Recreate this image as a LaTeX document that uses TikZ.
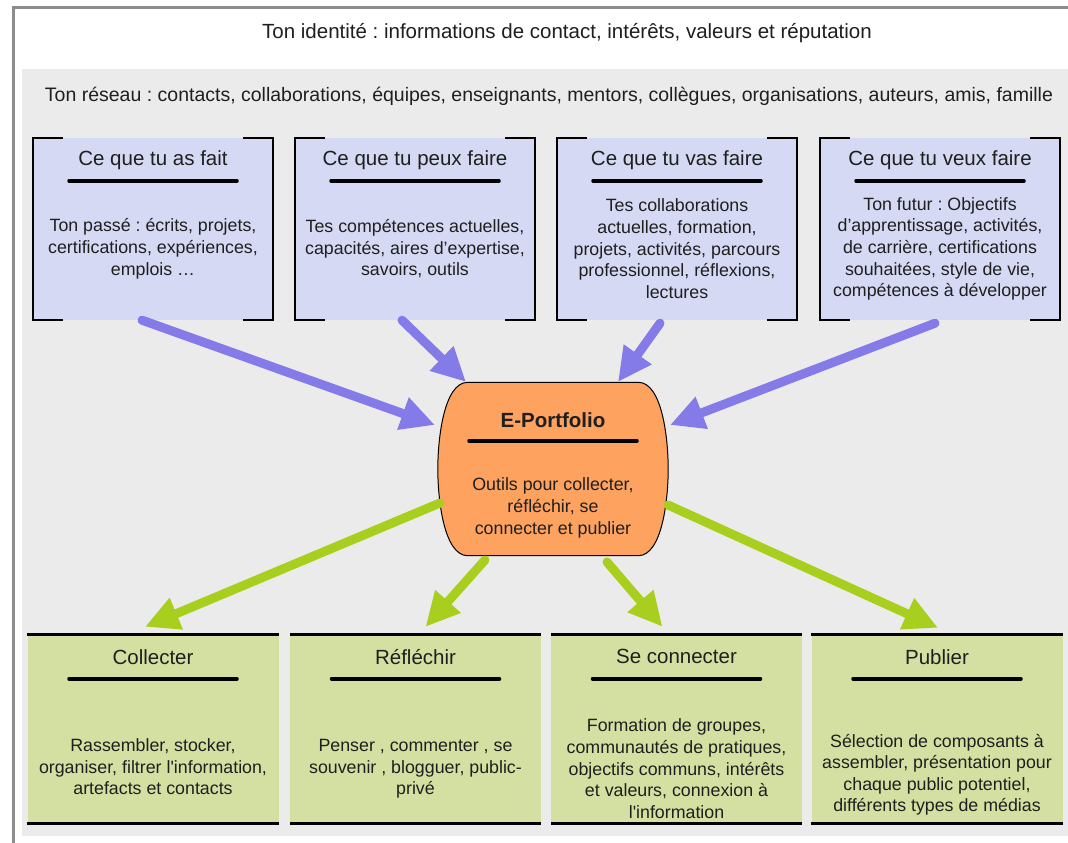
\documentclass[tikz,border=0pt]{standalone}
\usepackage{fontspec}
\setmainfont{Liberation Sans}
\usetikzlibrary{arrows.meta}
\usetikzlibrary{calc}
\frenchspacing
\definecolor{mframe}{rgb}{0.55, 0.55, 0.55}
\definecolor{mpanel}{rgb}{0.922, 0.922, 0.922}
\definecolor{mlilac}{rgb}{0.835, 0.851, 0.957}
\definecolor{mgreen}{rgb}{0.827, 0.878, 0.631}
\definecolor{morange}{rgb}{0.992, 0.639, 0.373}
\definecolor{mpurple}{rgb}{0.518, 0.478, 0.91}
\definecolor{mlime}{rgb}{0.659, 0.812, 0.118}
\definecolor{mtext}{rgb}{0.12, 0.12, 0.12}

\begin{document}
\begin{tikzpicture}[x=1pt, y=-1pt,
    toptext/.style={text=mtext, font=\fontsize{19.5}{23}\selectfont, inner sep=0pt},
    topbox/.style={fill=mlilac, minimum width=240pt, minimum height=182pt, inner sep=0pt},
    botbox/.style={fill=mgreen, minimum width=251pt, minimum height=188pt, inner sep=0pt},
    boxtitle/.style={text=mtext, font=\fontsize{20.5}{24}\selectfont, inner sep=0pt},
    boxtext/.style={text=mtext, font=\fontsize{17.8}{21.6}\selectfont, align=center, inner sep=0pt},
    bracket/.style={black, line width=2.5pt},
    botline/.style={black, line width=3pt},
    headrule/.style={black, line width=3.5pt, line cap=round},
    purplearrow/.style={mpurple, line width=9pt, line cap=round, -{Triangle[length=34pt, width=32pt]}},
    greenarrow/.style={mlime, line width=9pt, line cap=round, -{Triangle[length=34pt, width=32pt]}}]
  \useasboundingbox (0,0) rectangle (1068,843);
  \fill [white] (0,0) rectangle (1068,843);
  \fill [mpanel] (22,69) rectangle (1068,836);
  \draw [mframe, line width=3pt] (13,843) -- (13,8) -- (1068,8);

  \node [toptext, font=\fontsize{20.5}{24}\selectfont] (identite) at (567,33) {Ton identité : informations de contact, intérêts, valeurs et réputation};
  \node [toptext] (reseau) at (549,96) {Ton réseau : contacts, collaborations, équipes, enseignants, mentors, collègues, organisations, auteurs, amis, famille};

  % ce que tu ...
  \node [topbox] (fait) at (153,229) {};
  \node [topbox] (peux) at (415,229) {};
  \node [topbox] (vas) at (677,229) {};
  \node [topbox] (veux) at (940,229) {};
  \foreach \b in {fait,peux,vas,veux} {
    \draw [bracket] ([xshift=30pt]\b.north west) -| (\b.south west) -- +(30,0);
    \draw [bracket] ([xshift=-30pt]\b.north east) -| (\b.south east) -- +(-30,0);
    \draw [headrule] ($(\b.north)+(-84,43)$) -- +(168,0);
  }
  \node [boxtitle] (faitT) at ($(fait.north)+(0,22)$) {Ce que tu as fait};
  \node [boxtitle] (peuxT) at ($(peux.north)+(0,22)$) {Ce que tu peux faire};
  \node [boxtitle] (vasT) at ($(vas.north)+(0,22)$) {Ce que tu vas faire};
  \node [boxtitle] (veuxT) at ($(veux.north)+(0,22)$) {Ce que tu veux faire};
  \node [boxtext] (faitB) at ($(fait.north)+(0,111)$) {Ton passé : écrits, projets,\\certifications, expériences,\\emplois \dots};
  \node [boxtext] (peuxB) at ($(peux.north)+(0,111)$) {Tes compétences actuelles,\\capacités, aires d’expertise,\\savoirs, outils};
  \node [boxtext] (vasB) at ($(vas.north)+(0,111)$) {Tes collaborations\\actuelles, formation,\\projets, activités, parcours\\professionnel, réflexions,\\lectures};
  \node [boxtext] (veuxB) at ($(veux.north)+(0,111)$) {Ton futur : Objectifs\\d’apprentissage, activités,\\de carrière, certifications\\souhaitées, style de vie,\\compétences à développer};

  % e-portfolio
  \node [minimum width=230pt, minimum height=173pt, inner sep=0pt] (ep) at (553,469) {};
  \draw [fill=morange, line width=1pt] ([xshift=30pt]ep.north west) -- ([xshift=-30pt]ep.north east)
    .. controls ([xshift=-6pt]ep.north east) and ([yshift=30pt]ep.east) .. (ep.east)
    .. controls ([yshift=-30pt]ep.east) and ([xshift=-6pt]ep.south east) .. ([xshift=-30pt]ep.south east)
    -- ([xshift=30pt]ep.south west)
    .. controls ([xshift=6pt]ep.south west) and ([yshift=-30pt]ep.west) .. (ep.west)
    .. controls ([yshift=30pt]ep.west) and ([xshift=6pt]ep.north west) .. cycle;
  \node [boxtitle, font=\fontsize{20.5}{24}\selectfont\bfseries] (epT) at ($(ep.north)+(0,37.5)$) {E-Portfolio};
  \draw [headrule] ($(ep.north)+(-84,58.5)$) -- +(168,0);
  \node [boxtext] (epB) at ($(ep.north)+(0,125.5)$) {Outils pour collecter,\\réfléchir, se\\connecter et publier};

  % collecter ...
  \node [botbox] (coll) at (153,729) {};
  \node [botbox] (refl) at (415.5,729) {};
  \node [botbox] (conn) at (676.5,729) {};
  \node [botbox] (publ) at (937,729) {};
  \foreach \b in {coll,refl,conn,publ} {
    \draw [botline] (\b.north west) -- (\b.north east);
    \draw [botline] (\b.south west) -- (\b.south east);
    \draw [headrule] ($(\b.north)+(-84,44)$) -- +(168,0);
  }
  \node [boxtitle] (collT) at ($(coll.north)+(0,22)$) {Collecter};
  \node [boxtitle] (reflT) at ($(refl.north)+(0,22)$) {Réfléchir};
  \node [boxtitle] (connT) at ($(conn.north)+(0,22)$) {Se connecter};
  \node [boxtitle] (publT) at ($(publ.north)+(0,22)$) {Publier};
  \node [boxtext] (collB) at ($(coll.north)+(0,132)$) {Rassembler, stocker,\\organiser, filtrer l\textquotesingle information,\\artefacts et contacts};
  \node [boxtext] (reflB) at ($(refl.north)+(0,134)$) {Penser , commenter , se\\souvenir , blogguer, public-\\privé};
  \node [boxtext] (connB) at ($(conn.north)+(0,134)$) {Formation de groupes,\\communautés de pratiques,\\objectifs communs, intérêts\\et valeurs, connexion à\\l\textquotesingle information};
  \node [boxtext] (publB) at ($(publ.north)+(0,140)$) {Sélection de composants à\\assembler, présentation pour\\chaque public potentiel,\\différents types de médias};

  \draw [purplearrow] ($(fait.south)+(-11,0)$) -- ($(ep)+(-118,-44)$);
  \draw [purplearrow] ($(peux.south)+(-13,0)$) -- ($(ep)+(-87,-87)$);
  \draw [purplearrow] ($(vas.south)+(-17,3)$) -- ($(ep)+(65,-87)$);
  \draw [purplearrow] ($(veux.south)+(-5,3)$) -- ($(ep)+(117,-44)$);

  \draw [greenarrow] ($(ep)+(-113,34)$) -- ($(coll.north)+(-8,-8)$);
  \draw [greenarrow] ($(ep)+(-68,91)$) -- ($(refl.north)+(10,-8)$);
  \draw [greenarrow] ($(ep)+(54,93)$) -- ($(conn.north)+(-14,-8)$);
  \draw [greenarrow] ($(ep)+(115,36)$) -- ($(publ.north)+(1,-7)$);
\end{tikzpicture}
\end{document}
